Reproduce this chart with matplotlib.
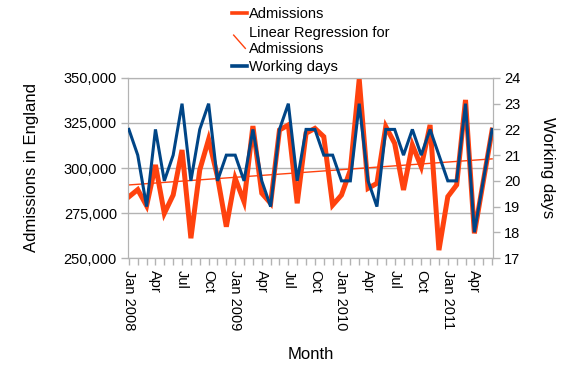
import numpy as np
import matplotlib
matplotlib.use("Agg")
import matplotlib.pyplot as plt
from matplotlib.legend_handler import HandlerBase
from matplotlib.lines import Line2D
from matplotlib.ticker import FuncFormatter

plt.rcParams['font.family'] = ['Liberation Sans', 'DejaVu Sans']

# monthly data, Jan 2008 - Jun 2011
month_labels = ["Jan 2008", "", "", "Apr", "", "", "Jul", "", "", "Oct", "", "",
                "Jan 2009", "", "", "Apr", "", "", "Jul", "", "", "Oct", "", "",
                "Jan 2010", "", "", "Apr", "", "", "Jul", "", "", "Oct", "", "",
                "Jan 2011", "", "", "Apr", "", ""]
admissions = [284000, 288000, 279000, 301700, 274800, 285000, 310000, 261000, 298900, 315900, 295200, 267400,
              294300, 281300, 323300, 286000, 280400, 321100, 323900, 280400, 319300, 322000, 317400, 279400,
              285000, 298900, 349300, 288700, 291500, 323000, 313700, 287800, 312800, 300700, 323900, 254400,
              284100, 290600, 337800, 263700, 292400, 321000]
working_days = [22, 21, 19, 22, 20, 21, 23, 20, 22, 23, 20, 21,
                21, 20, 22, 20, 19, 22, 23, 20, 22, 22, 21, 21,
                20, 20, 23, 20, 19, 22, 22, 21, 22, 21, 22, 21,
                20, 20, 23, 18, 20, 22]

ORANGE = "#ff420e"
BLUE = "#004586"
GRID = "#b3b3b3"

x = np.arange(len(admissions))
slope, intercept = np.polyfit(x, admissions, 1)


class DiagonalHandler(HandlerBase):
    def create_artists(self, legend, orig_handle, xdescent, ydescent,
                       width, height, fontsize, trans):
        line = Line2D([xdescent + width * 0.1, width * 0.9],
                      [height * 1.1, -height * 0.2],
                      color=orig_handle.get_color(), lw=1.0, transform=trans)
        return [line]


fig = plt.figure(figsize=(5.81, 3.84), dpi=100)
ax = fig.add_axes([0.2203, 0.328, 0.6282, 0.469])
ax2 = ax.twinx()

l1, = ax.plot(x, admissions, color=ORANGE, lw=3.6, solid_joinstyle='miter', zorder=3)
l2, = ax.plot(x, slope * x + intercept, color=ORANGE, lw=1.0, zorder=4)
l3, = ax2.plot(x, working_days, color=BLUE, lw=2.2, solid_joinstyle='miter', zorder=3)

ax.set_zorder(ax2.get_zorder() - 1)
ax.patch.set_visible(True)
ax2.patch.set_visible(False)

ax.set_xlim(-0.1, 41.1)
ax.set_ylim(250000, 350000)
ax.set_yticks(np.arange(250000, 350001, 25000))
ax.yaxis.set_major_formatter(FuncFormatter(lambda v, p: f"{int(v):,}"))
ax2.set_ylim(17, 24)
ax2.set_yticks(range(17, 25))

ax.set_xticks(x)
ax.set_xticklabels(month_labels, rotation=-90, fontsize=10.5)
ax.grid(axis='y', color=GRID, lw=1.0)
ax.set_axisbelow(True)

for a in (ax, ax2):
    for s in a.spines.values():
        s.set_color(GRID)
    a.tick_params(colors=GRID, labelcolor='black', labelsize=10.5, length=5, width=1)
ax.tick_params(axis='y', pad=3)
ax2.tick_params(axis='y', pad=3)

ax.set_xlabel("Month", fontsize=12, labelpad=12)
ax.set_ylabel("Admissions in England", fontsize=12, labelpad=18)
ax2.set_ylabel("Working days", fontsize=12, rotation=270, labelpad=25)

leg = fig.legend([l1, l2, l3],
                 ["Admissions", "Linear Regression for\nAdmissions", "Working days"],
                 loc='upper center', bbox_to_anchor=(0.535, 1.015), frameon=False,
                 fontsize=10.5, handlelength=1.0, handletextpad=0.15, labelspacing=0.3,
                 handler_map={l2: DiagonalHandler()})
for h in leg.legend_handles:
    if isinstance(h, Line2D) and h.get_linewidth() > 1.5:
        h.set_linewidth(2.6)

fig.savefig("out.png", dpi=100)
